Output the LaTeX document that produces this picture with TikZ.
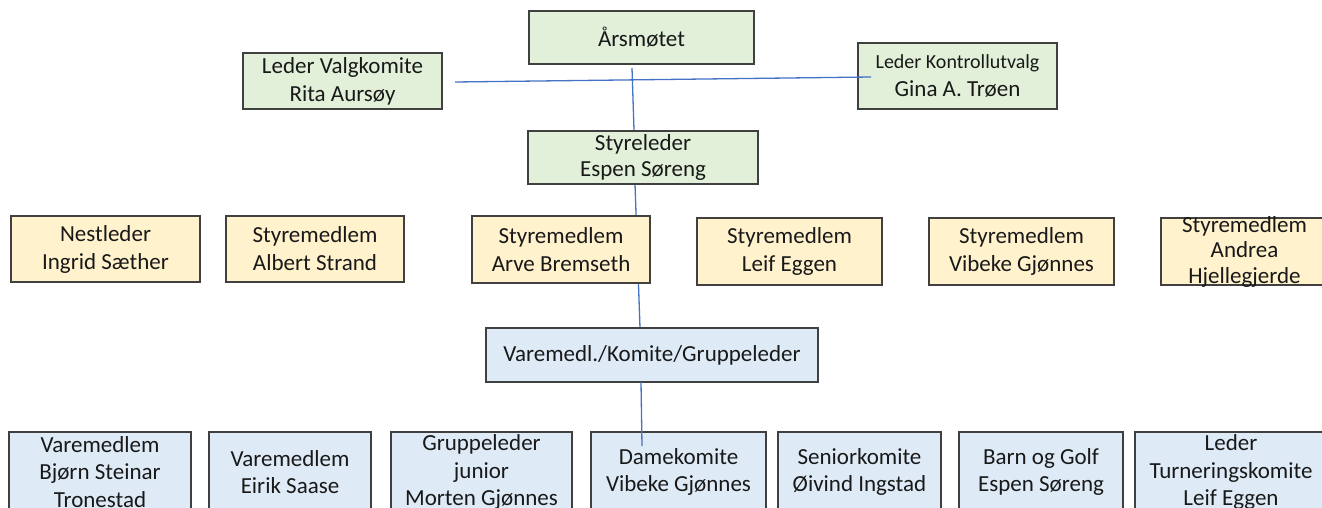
\documentclass[tikz,border=0pt]{standalone}
\usepackage{fontspec}
\setmainfont{Carlito}
\definecolor{gfill}{HTML}{E2F0D9}
\definecolor{yfill}{HTML}{FFF2CC}
\definecolor{bfill}{HTML}{DEEBF7}
\definecolor{edgec}{HTML}{404040}
\definecolor{conn}{HTML}{4472C4}
\begin{document}
\begin{tikzpicture}[x=1pt,y=-1pt,
  box/.style={draw=edgec, line width=1.3pt, rectangle, inner sep=0pt, align=center,
    font=\fontsize{23}{28}\selectfont, text=black!90},
  gbox/.style={box, fill=gfill},
  ybox/.style={box, fill=yfill},
  bbox/.style={box, fill=bfill},
  conline/.style={draw=conn, line width=1.3pt},
  txt/.style={inner sep=0pt, align=center, text=black!90}]
\useasboundingbox (0,0) rectangle (1322,508);
\clip (0,0) rectangle (1322,508);
% connectors behind boxes
\coordinate (c3a) at (635,184);
\coordinate (c3b) at (640,328);
\draw[conline] (c3a) -- (c3b);
% top level
\node[gbox, minimum width=225pt, minimum height=53pt] (ars) at (641.5,37.5) {Årsmøtet};
\node[gbox, minimum width=199pt, minimum height=56pt] (valg) at (342.5,81) {Leder Valgkomite\\Rita Aursøy};
\node[gbox, minimum width=199pt, minimum height=66pt] (kontroll) at (957.5,76) {{\fontsize{20}{28}\selectfont Leder Kontrollutvalg}\\Gina A. Trøen};
\node[gbox, minimum width=230pt, minimum height=53pt, font=\fontsize{23}{26}\selectfont] (styre) at (643,157.5) {Styreleder\\Espen Søreng};
% board row
\node[ybox, minimum width=189pt, minimum height=66pt] (nest) at (105.5,249) {Nestleder\\Ingrid Sæther};
\node[ybox, minimum width=178pt, minimum height=66pt] (albert) at (315,249) {Styremedlem\\Albert Strand};
\node[ybox, minimum width=178pt, minimum height=67pt] (arve) at (561,249.5) {Styremedlem\\Arve Bremseth};
\node[ybox, minimum width=185pt, minimum height=67pt] (leif) at (789.5,251.5) {Styremedlem\\Leif Eggen};
\node[ybox, minimum width=185pt, minimum height=67pt] (vibeke) at (1021.5,251.5) {Styremedlem\\Vibeke Gjønnes};
\draw[draw=edgec, line width=1.3pt, fill=yfill] (1161,218) rectangle (1328,285);
\node[txt, font=\fontsize{23}{25.5}\selectfont] (andrea) at (1244.5,251.5) {Styremedlem\\Andrea\\Hjellegjerde};
% middle
\node[bbox, minimum width=332pt, minimum height=54pt] (vare) at (652,355) {Varemedl./Komite/Gruppeleder};
% bottom row
\node[bbox, minimum width=182pt, minimum height=80pt, font=\fontsize{23}{27.5}\selectfont] (b1) at (100,472) {Varemedlem\\Bjørn Steinar\\Tronestad};
\node[bbox, minimum width=162pt, minimum height=80pt, font=\fontsize{23}{27.5}\selectfont] (b2) at (290,472) {Varemedlem\\Eirik Saase};
\node[bbox, minimum width=181pt, minimum height=80pt, font=\fontsize{23}{27.5}\selectfont] (b3) at (481.5,472) {Gruppeleder\\junior\\Morten Gjønnes};
\node[bbox, minimum width=175pt, minimum height=80pt, font=\fontsize{23}{27.5}\selectfont] (b4) at (678.5,472) {Damekomite\\Vibeke Gjønnes};
\node[bbox, minimum width=163pt, minimum height=80pt, font=\fontsize{23}{27.5}\selectfont] (b5) at (859.5,472) {Seniorkomite\\Øivind Ingstad};
\node[bbox, minimum width=164pt, minimum height=80pt, font=\fontsize{23}{27.5}\selectfont] (b6) at (1041,472) {Barn og Golf\\Espen Søreng};
\node[bbox, minimum width=192pt, minimum height=80pt, font=\fontsize{23}{27.5}\selectfont] (b7) at (1231,472) {Leder\\Turneringskomite\\Leif Eggen};
% connectors on top
\coordinate (c1a) at (455,82);
\coordinate (c1b) at (871,77);
\draw[conline] (c1a) -- (c1b);
\coordinate (c2a) at (632,68);
\coordinate (c2b) at (634,130);
\draw[conline] (c2a) -- (c2b);
\coordinate (c4a) at (641,382);
\coordinate (c4b) at (642,446);
\draw[conline] (c4a) -- (c4b);
\end{tikzpicture}
\end{document}
